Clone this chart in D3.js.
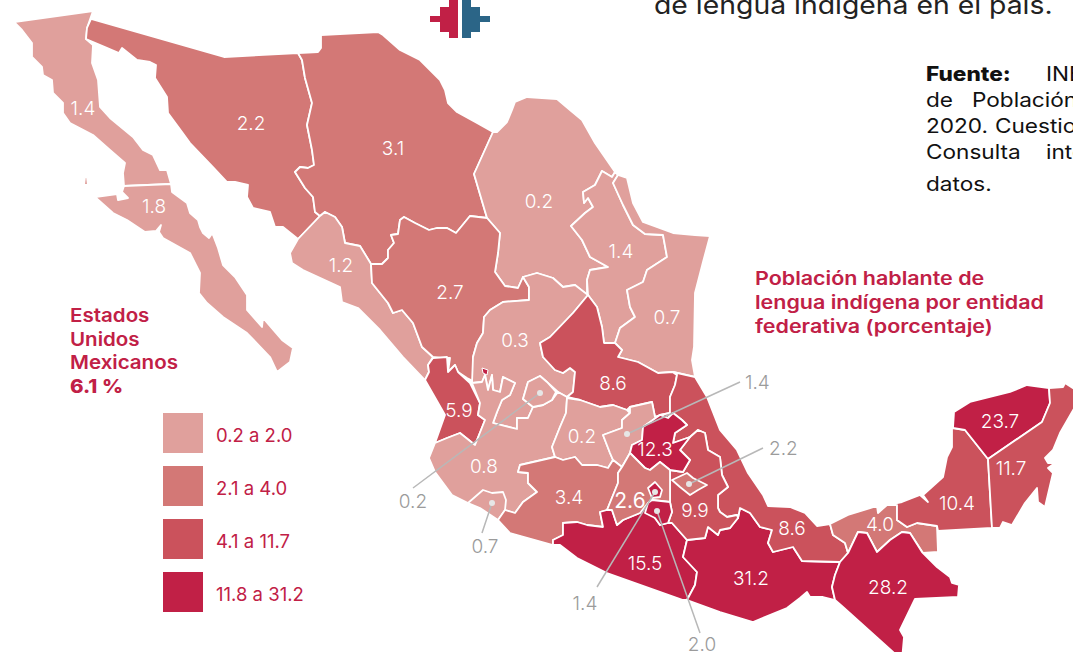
<!DOCTYPE html>
<html>
<head>
<meta charset="utf-8">
<script src="https://cdn.jsdelivr.net/npm/d3@7"></script>
<style>
  body { margin: 0; background: #fff; overflow: hidden; }
  svg { display: block; font-family: Inter, sans-serif; }
</style>
</head>
<body>
<svg id="map" width="1073" height="652"></svg>
<script>
// values
const states = ["Baja California", "Baja California Sur", "Sonora", "Chihuahua", "Coahuila", "Nuevo León", "Tamaulipas",
  "Sinaloa", "Durango", "Zacatecas", "San Luis Potosí", "Nayarit", "Jalisco", "Aguascalientes", "Colima", "Guanajuato",
  "Querétaro", "Michoacán", "Guerrero", "Oaxaca", "Veracruz", "Puebla", "Hidalgo", "México", "Tlaxcala", "Morelos",
  "Ciudad de México", "Tabasco", "Chiapas", "Campeche", "Yucatán", "Quintana Roo"];
const values = [1.4, 1.8, 2.2, 3.1, 0.2, 1.4, 0.7, 1.2, 2.7, 0.3, 8.6, 5.9, 0.8, 0.2, 0.7, 0.2,
  1.4, 3.4, 15.5, 31.2, 8.6, 9.9, 12.3, 2.6, 2.2, 2.0, 1.4, 4.0, 28.2, 10.4, 23.7, 11.7];

const legendLabels = ["0.2 a 2.0", "2.1 a 4.0", "4.1 a 11.7", "11.8 a 31.2"];
const legendColors = ["#e0a09c", "#d37876", "#cb525c", "#c12046"];
const classBreaks = [2.05, 4.05, 11.75];
// these two are painted in the top class on the original, whatever their value
const paintedTopClass = ["Morelos", "Ciudad de México"];

// leader labels for the states too small to hold their number
const calloutStates = ["Aguascalientes", "Colima", "Ciudad de México", "Morelos", "Querétaro", "Tlaxcala"];

const nationalTitle = ["Estados", "Unidos", "Mexicanos"];
const nationalValue = "6.1 %";
const mapTitle = ["Población hablante de", "lengua indígena por entidad", "federativa (porcentaje)"];

// traced outlines, in picture units
const outlines = {
  "Baja California": [[[14,22],[93,11],[87,28],[86,39],[93,45],[92,63],[98,80],[100,107],[110,118],[133,137],[143,150],[153,155],[160,170],[167,170],[171,184],[124,186],[123,173],[125,163],[110,150],[93,135],[70,123],[63,113],[63,103],[53,93],[52,80],[43,75],[42,67],[32,57],[32,43],[22,30]],
    [[85,177],[87,177],[88,185],[84,185]]],
  "Baja California Sur": [[[124,186],[171,184],[172,192],[187,203],[190,213],[198,220],[200,227],[203,233],[209,238],[211,235],[204,226],[213,235],[218,248],[223,265],[235,277],[247,295],[247,310],[262,327],[263,318],[282,340],[293,348],[290,362],[277,372],[270,357],[247,333],[223,317],[207,303],[199,293],[200,273],[190,253],[163,238],[159,232],[161,225],[156,231],[145,232],[127,220],[113,213],[95,197],[117,194],[118,200],[128,198],[122,192]]],
  "Sonora": [[[91,19],[224,57],[298,53],[302,60],[305,78],[312,103],[307,125],[312,150],[314,165],[308,168],[300,167],[295,172],[305,188],[313,197],[315,212],[320,216],[298,239],[283,227],[275,227],[270,212],[253,208],[247,197],[248,185],[235,182],[227,182],[213,167],[190,143],[182,132],[168,113],[167,97],[155,78],[156,65],[150,62],[137,60],[122,48],[119,53],[105,47],[86,39],[87,28]]],
  "Chihuahua": [[[298,53],[318,52],[321,48],[321,35],[378,32],[383,35],[400,50],[420,60],[440,80],[445,90],[448,103],[457,112],[477,123],[493,132],[474,174],[487,218],[470,216],[456,233],[447,228],[437,228],[429,230],[415,223],[404,217],[400,220],[398,234],[391,235],[394,243],[388,250],[388,258],[382,264],[371,264],[360,246],[345,243],[342,227],[335,217],[325,212],[320,216],[315,212],[313,197],[305,188],[295,172],[300,167],[308,168],[314,165],[312,150],[307,125],[312,103],[305,78],[302,60]]],
  "Coahuila": [[[493,132],[497,132],[507,122],[512,110],[515,102],[527,97],[557,99],[570,110],[582,120],[595,143],[615,172],[612,177],[602,171],[595,185],[583,192],[584,203],[588,198],[593,207],[585,213],[571,226],[582,240],[590,257],[608,267],[590,270],[587,280],[587,295],[575,285],[563,287],[553,278],[537,273],[523,277],[518,288],[505,286],[495,272],[498,253],[500,233],[487,218],[474,174]]],
  "Nuevo León": [[[615,172],[612,177],[602,171],[595,185],[583,192],[584,203],[588,198],[593,207],[585,213],[571,226],[582,240],[590,257],[608,267],[590,270],[587,280],[588,295],[597,307],[602,327],[604,343],[615,343],[620,328],[635,317],[630,307],[627,290],[643,282],[647,270],[667,257],[663,235],[645,234],[633,225],[623,205],[613,183],[618,175]]],
  "Tamaulipas": [[[618,175],[627,178],[633,203],[643,222],[673,233],[695,235],[710,236],[703,262],[695,293],[694,347],[692,360],[695,377],[673,372],[658,373],[638,362],[618,357],[622,350],[615,343],[620,328],[635,317],[630,307],[627,290],[643,282],[647,270],[667,257],[663,235],[645,234],[633,225],[623,205],[613,183]]],
  "Sinaloa": [[[320,216],[298,239],[290,253],[292,263],[303,270],[340,287],[342,302],[358,308],[380,330],[403,357],[425,380],[429,372],[428,365],[433,357],[422,347],[413,323],[402,310],[393,313],[388,303],[372,283],[371,264],[360,246],[345,243],[342,227],[335,217],[325,212]]],
  "Durango": [[[371,264],[382,264],[388,258],[388,250],[394,243],[391,235],[398,234],[400,220],[404,217],[415,223],[429,230],[437,228],[447,228],[456,233],[470,216],[487,218],[500,233],[498,253],[495,272],[505,286],[518,288],[523,277],[529,287],[529,300],[503,302],[490,310],[484,317],[483,333],[477,343],[473,357],[473,381],[467,378],[458,372],[455,365],[448,372],[450,358],[440,358],[433,357],[422,347],[413,323],[402,310],[393,313],[388,303],[372,283]]],
  "Zacatecas": [[[523,277],[537,273],[553,278],[563,287],[575,285],[588,295],[573,313],[550,337],[540,343],[543,357],[555,370],[563,373],[570,368],[575,372],[573,392],[567,397],[558,392],[548,383],[540,376],[528,382],[523,399],[533,407],[528,418],[517,418],[517,429],[493,423],[497,412],[502,400],[510,395],[515,383],[503,377],[500,392],[493,390],[492,375],[488,390],[485,375],[482,382],[472,383],[473,357],[477,343],[483,333],[484,317],[490,310],[503,302],[529,300],[529,287]]],
  "San Luis Potosí": [[[588,295],[597,307],[602,327],[604,343],[615,343],[622,350],[618,357],[638,362],[658,373],[673,372],[677,375],[675,385],[670,397],[670,413],[660,415],[655,417],[652,402],[630,407],[627,410],[613,405],[600,407],[580,400],[567,397],[573,392],[575,372],[570,368],[563,373],[555,370],[543,357],[540,343],[550,337],[573,313]]],
  "Nayarit": [[[433,358],[428,365],[429,372],[425,380],[445,415],[435,443],[447,438],[460,433],[475,445],[485,420],[478,415],[480,403],[470,383],[458,372],[455,365],[448,372],[447,357]]],
  "Jalisco": [[[472,383],[480,403],[478,415],[485,420],[475,445],[460,433],[447,438],[435,443],[429,458],[435,472],[452,495],[468,503],[480,508],[498,520],[505,510],[515,513],[523,502],[537,492],[528,483],[528,473],[518,472],[520,465],[555,457],[552,447],[560,427],[566,413],[567,397],[558,392],[552,400],[543,405],[533,407],[528,418],[517,418],[517,429],[493,423],[497,412],[502,400],[510,395],[515,383],[503,377],[500,392],[493,390],[492,375],[488,390],[485,375],[482,382]]],
  "Aguascalientes": [[[540,376],[547,382],[556,392],[552,400],[543,405],[533,407],[523,399],[528,382]]],
  "Colima": [[[468,503],[483,490],[492,493],[503,492],[506,500],[505,510],[498,520],[480,508]]],
  "Guanajuato": [[[567,398],[580,400],[600,407],[613,405],[627,410],[630,413],[622,420],[622,428],[603,435],[610,453],[613,460],[608,468],[597,465],[582,465],[575,457],[563,460],[555,457],[552,447],[560,427],[566,413]]],
  "Querétaro": [[[603,435],[622,428],[622,420],[630,413],[630,407],[652,402],[655,417],[660,415],[643,427],[642,440],[632,445],[630,453],[622,467],[613,460],[610,453]]],
  "Michoacán": [[[498,520],[510,533],[553,545],[553,540],[563,535],[563,523],[577,522],[587,525],[603,527],[600,512],[607,510],[618,483],[618,473],[622,467],[613,460],[608,468],[597,465],[582,465],[575,457],[563,460],[555,457],[520,465],[518,472],[528,473],[528,483],[537,492],[523,502],[515,513],[505,510]]],
  "Guerrero": [[[553,540],[563,535],[563,523],[577,522],[587,525],[603,527],[600,512],[607,510],[612,510],[617,525],[623,520],[640,513],[648,503],[655,518],[660,525],[668,523],[672,523],[687,540],[683,557],[697,572],[695,585],[687,600],[683,600],[607,573],[577,558],[560,545],[553,545]]],
  "Oaxaca": [[[687,540],[705,538],[708,527],[718,535],[720,530],[730,528],[738,518],[740,508],[750,513],[760,527],[772,530],[768,543],[773,552],[793,547],[802,561],[840,562],[835,575],[832,587],[835,600],[823,597],[810,597],[807,592],[800,598],[787,608],[753,622],[720,612],[687,600],[695,585],[697,572],[683,557]]],
  "Veracruz": [[[673,372],[695,377],[707,397],[720,430],[737,450],[748,473],[763,495],[768,506],[790,507],[805,513],[817,526],[830,524],[833,535],[845,543],[848,553],[840,562],[802,561],[793,547],[773,552],[768,543],[772,530],[760,527],[750,513],[740,508],[738,518],[737,515],[727,517],[720,512],[718,508],[718,495],[728,487],[722,475],[720,457],[708,450],[705,433],[698,430],[690,437],[673,443],[675,433],[687,425],[682,420],[673,413],[668,418],[660,415],[670,413],[670,397],[675,385],[677,375]]],
  "Puebla": [[[698,430],[705,433],[708,450],[720,457],[722,475],[728,487],[718,495],[718,508],[720,512],[727,517],[737,515],[738,518],[730,528],[720,530],[718,535],[708,527],[705,538],[687,540],[672,523],[668,523],[672,512],[670,502],[670,470],[683,472],[690,460],[680,450],[690,437]]],
  "Hidalgo": [[[660,415],[668,418],[673,413],[682,420],[687,425],[675,433],[673,443],[690,437],[680,450],[690,460],[683,472],[670,470],[660,462],[650,470],[645,468],[630,453],[632,445],[642,440],[643,427]]],
  "México": [[[630,453],[645,468],[650,470],[660,462],[670,470],[670,502],[652,500],[648,503],[640,513],[623,520],[617,525],[612,510],[607,510],[618,483],[618,473],[622,467]]],
  "Tlaxcala": [[[672,480],[687,473],[693,478],[707,485],[698,490],[690,495],[680,487]]],
  "Morelos": [[[648,503],[652,500],[670,502],[672,512],[668,523],[660,525],[655,518],[645,513]]],
  "Ciudad de México": [[[648,488],[655,482],[662,490],[660,497],[652,498]]],
  "Tabasco": [[[830,524],[848,515],[877,506],[878,513],[887,505],[897,505],[897,520],[907,527],[917,523],[937,526],[938,552],[923,553],[910,533],[902,532],[890,540],[877,552],[867,533],[858,532],[848,553],[845,543],[833,535]]],
  "Chiapas": [[[840,562],[848,553],[858,532],[867,533],[877,552],[890,540],[902,532],[910,533],[922,552],[937,567],[950,577],[952,583],[959,585],[958,597],[915,599],[900,630],[904,637],[902,660],[893,652],[843,607],[835,600],[832,587],[835,575]]],
  "Campeche": [[[887,505],[902,502],[920,495],[928,502],[923,495],[943,477],[947,457],[952,447],[952,422],[953,428],[965,430],[988,459],[992,528],[938,531],[937,526],[917,523],[907,527],[897,520],[897,505]]],
  "Yucatán": [[[954,412],[970,402],[1010,392],[1027,385],[1049,388],[1050,403],[1042,422],[988,459],[965,430],[953,428]]],
  "Quintana Roo": [[[1049,388],[1063,387],[1065,383],[1076,390],[1076,405],[1060,433],[1053,450],[1045,458],[1048,463],[1055,463],[1048,468],[1053,473],[1045,507],[1038,502],[1037,488],[1025,503],[1012,525],[1003,522],[1000,528],[992,528],[988,459],[1042,422],[1050,403]]]
};
// small patch inside Zacatecas on the original, no number of its own
const enclave = [[[482,368],[488,370],[487,375],[483,373]]];

const numberSpots = {
  "Baja California": [83,108], "Baja California Sur": [154,206], "Sonora": [251,123], "Chihuahua": [393,148],
  "Coahuila": [539,201], "Nuevo León": [621,251], "Tamaulipas": [667,317], "Sinaloa": [341,265], "Durango": [450,292],
  "Zacatecas": [515,340], "San Luis Potosí": [613,383], "Nayarit": [459,410], "Jalisco": [484,466], "Guanajuato": [582,436],
  "Hidalgo": [655,449], "Michoacán": [569,497], "México": [630,501], "Puebla": [695,510], "Guerrero": [645,563],
  "Veracruz": [792,528], "Tabasco": [880,524], "Campeche": [957,503], "Quintana Roo": [1011,468], "Yucatán": [1000,421],
  "Oaxaca": [751,578], "Chiapas": [888,587]
};
// dot inside the state, end of the leader, anchor of the grey number
const calloutSpots = {
  "Aguascalientes": { dot: [540,393], end: [413,488], text: [413,508], anchor: "middle" },
  "Colima": { dot: [492,503], end: [482,533], text: [485,553], anchor: "middle" },
  "Ciudad de México": { dot: [655,492], end: [597,587], text: [585,610], anchor: "middle" },
  "Morelos": { dot: [657,511], end: [700,633], text: [702,651], anchor: "middle" },
  "Querétaro": { dot: [627,434], end: [740,382], text: [745,389], anchor: "start" },
  "Tlaxcala": { dot: [689,484], end: [763,448], text: [769,455], anchor: "start" }
};

const red = "#c12046";
const svg = d3.select("#map");
const valueOf = new Map(states.map((s, i) => [s, values[i]]));
const color = d3.scaleThreshold().domain(classBreaks).range(legendColors);
const path = d3.geoPath(d3.geoIdentity());

const fillOf = (s) => paintedTopClass.includes(s) ? legendColors[3] : color(valueOf.get(s));

// the original face is wider than anything installed, so pull the glyphs out
const stretch = (sel, f) => sel.each(function () {
  d3.select(this)
    .attr("textLength", this.getComputedTextLength() * f)
    .attr("lengthAdjust", "spacingAndGlyphs");
});

svg.append("g")
  .selectAll("path")
  .data(states)
  .join("path")
  .attr("d", (s) => path({ type: "MultiPolygon", coordinates: outlines[s].map((r) => [r.concat([r[0]])]) }))
  .attr("fill", fillOf)
  .attr("stroke", "#fff")
  .attr("stroke-width", 1.8)
  .attr("stroke-linejoin", "round");

svg.append("path")
  .attr("d", path({ type: "MultiPolygon", coordinates: enclave.map((r) => [r.concat([r[0]])]) }))
  .attr("fill", red)
  .attr("stroke", "#fff")
  .attr("stroke-width", 1);

// numbers on the map
svg.append("g")
  .selectAll("text")
  .data(Object.keys(numberSpots))
  .join("text")
  .attr("x", (s) => numberSpots[s][0])
  .attr("y", (s) => numberSpots[s][1] + 7)
  .attr("text-anchor", "middle")
  .attr("fill", "#fff")
  .attr("font-size", (s) => s === "México" ? 21 : 19)
  .attr("font-weight", (s) => s === "México" ? 400 : 300)
  .text((s) => valueOf.get(s).toFixed(1));

// leaders
const callouts = svg.append("g");
callouts.selectAll("line")
  .data(calloutStates)
  .join("line")
  .attr("x1", (s) => calloutSpots[s].dot[0])
  .attr("y1", (s) => calloutSpots[s].dot[1])
  .attr("x2", (s) => calloutSpots[s].end[0])
  .attr("y2", (s) => calloutSpots[s].end[1])
  .attr("stroke", "#b8b8b8")
  .attr("stroke-width", 1.5);
callouts.selectAll("circle")
  .data(calloutStates)
  .join("circle")
  .attr("cx", (s) => calloutSpots[s].dot[0])
  .attr("cy", (s) => calloutSpots[s].dot[1])
  .attr("r", 3)
  .attr("fill", "#e6e6e6");
callouts.selectAll("text")
  .data(calloutStates)
  .join("text")
  .attr("x", (s) => calloutSpots[s].text[0])
  .attr("y", (s) => calloutSpots[s].text[1])
  .attr("text-anchor", (s) => calloutSpots[s].anchor)
  .attr("fill", "#9b9b9b")
  .attr("font-size", 19)
  .attr("font-weight", 300)
  .text((s) => valueOf.get(s).toFixed(1));

// legend
const legend = svg.append("g").attr("transform", "translate(163,413)");
legend.selectAll("rect")
  .data(legendColors)
  .join("rect")
  .attr("y", (d, i) => i * 53)
  .attr("width", 40)
  .attr("height", 40)
  .attr("fill", (d) => d);
legend.selectAll("text")
  .data(legendLabels)
  .join("text")
  .attr("x", 53)
  .attr("y", (d, i) => i * 53 + 29)
  .attr("fill", red)
  .attr("font-size", 18.5)
  .attr("font-weight", 400)
  .text((d) => d);

// titles
svg.append("g")
  .selectAll("text")
  .data(nationalTitle.concat([nationalValue]))
  .join("text")
  .attr("x", 70)
  .attr("y", (d, i) => 322 + i * 23.7)
  .attr("fill", red)
  .attr("font-size", 19)
  .attr("font-weight", (d) => d === nationalValue ? 800 : 600)
  .text((d) => d)
  .call(stretch, 1.08);

svg.append("g")
  .selectAll("text")
  .data(mapTitle)
  .join("text")
  .attr("x", 755)
  .attr("y", (d, i) => 285 + i * 24)
  .attr("fill", red)
  .attr("font-size", 18.5)
  .attr("font-weight", 600)
  .text((d) => d)
  .call(stretch, 1.16);

// text cut off by the page edge on the original
svg.append("text")
  .attr("x", 654).attr("y", 14)
  .attr("fill", "#222").attr("font-size", 25).attr("font-weight", 400)
  .text("de lengua indígena en el país.")
  .call(stretch, 1.134);

const sourceWords = [
  ["Fuente:", 926, 81, 800], ["INEGI", 1046, 81, 400],
  ["de", 926, 107, 400], ["Población", 972, 107, 400],
  ["2020.", 926, 133, 400], ["Cuestionario", 995, 133, 400],
  ["Consulta", 926, 159, 400], ["interactiva", 1046, 159, 400],
  ["datos.", 926, 191, 400]
];
svg.append("g")
  .selectAll("text")
  .data(sourceWords)
  .join("text")
  .attr("x", (d) => d[1])
  .attr("y", (d) => d[2])
  .attr("font-weight", (d) => d[3])
  .attr("font-size", 20)
  .attr("fill", "#111")
  .text((d) => d[0])
  .call(stretch, 1.13);

// logo
const logo = svg.append("g").attr("transform", "translate(460,0)");
const logoSteps = [
  { from: 2, to: 11, y: 0, h: 38 },
  { from: 11, to: 20, y: 7, h: 25 },
  { from: 20, to: 30, y: 16, h: 6 }
];
[-1, 1].forEach((side) => {
  logo.selectAll(`.side${side}`)
    .data(logoSteps)
    .join("rect")
    .attr("class", `side${side}`)
    .attr("x", (d) => side < 0 ? -d.to : d.from)
    .attr("width", (d) => d.to - d.from)
    .attr("y", (d) => d.y)
    .attr("height", (d) => d.h)
    .attr("fill", side < 0 ? red : "#2b6587");
});
</script>
</body>
</html>
